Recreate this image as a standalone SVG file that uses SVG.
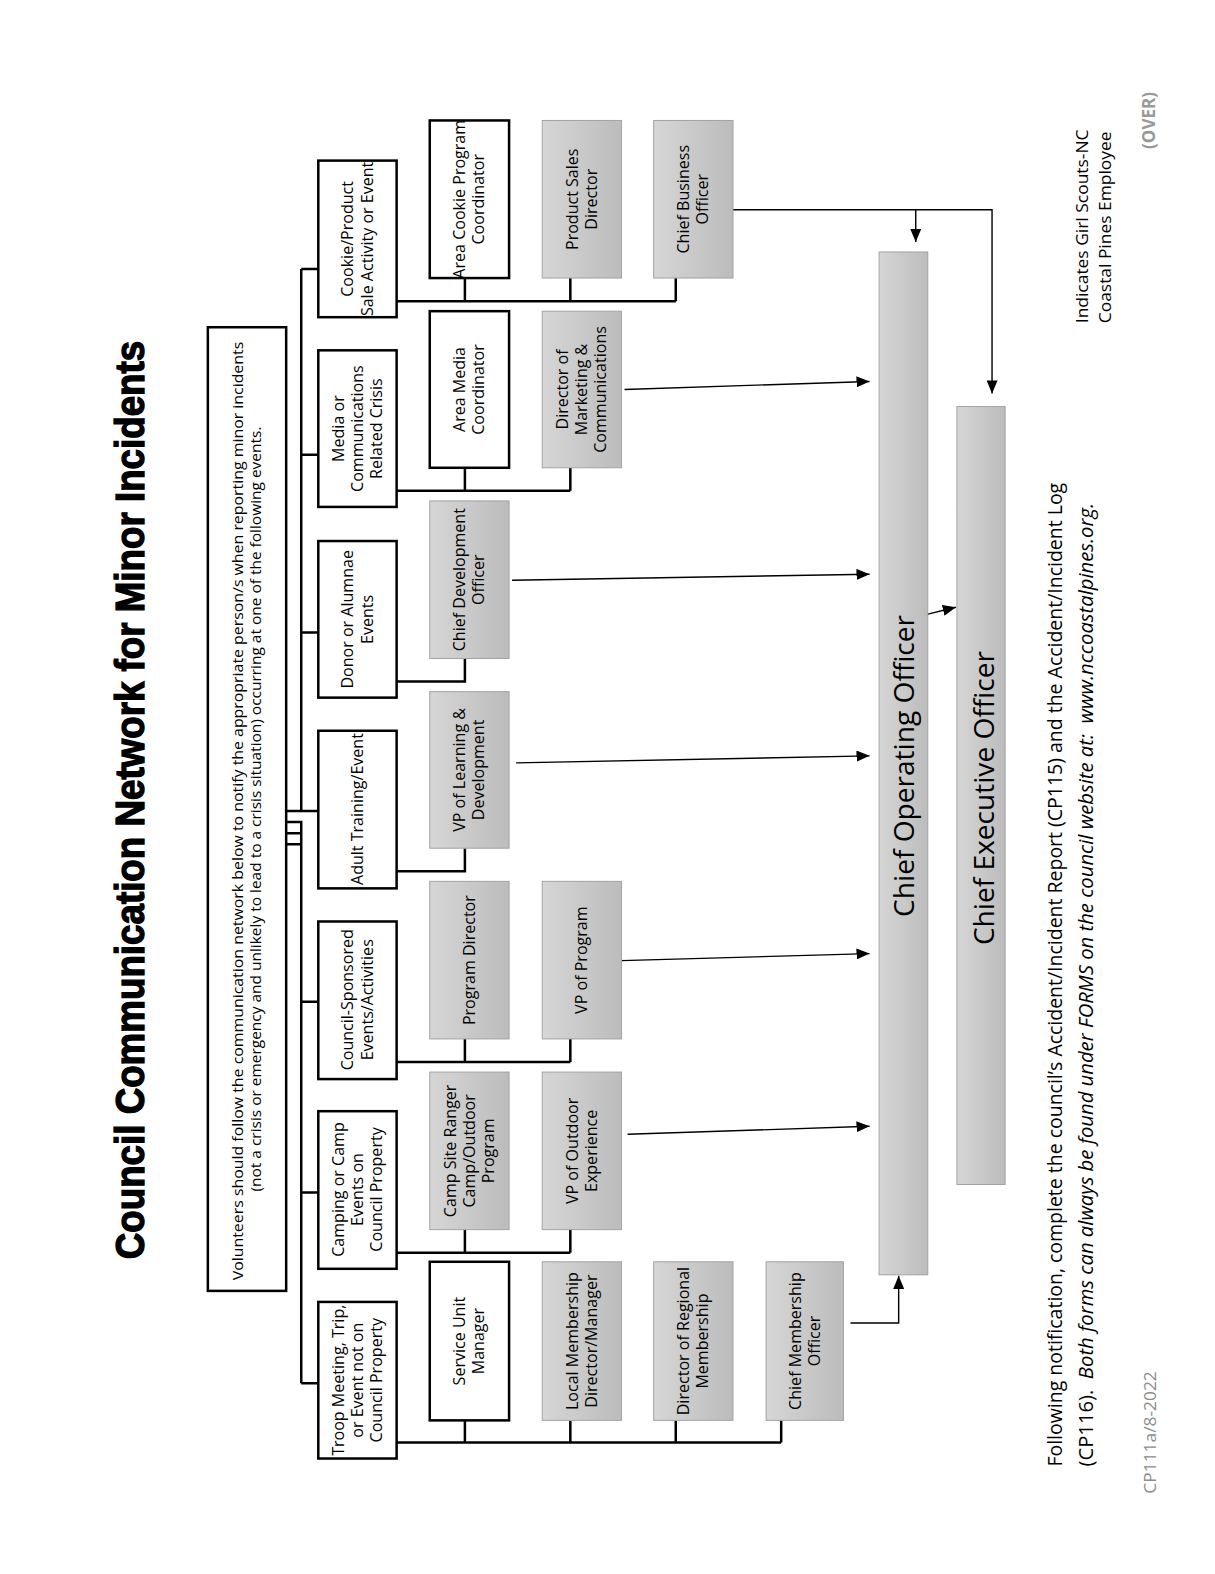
<svg xmlns="http://www.w3.org/2000/svg" width="1215" height="1574" viewBox="0 0 1215 1574">
<defs>
<linearGradient id="g" x1="0" y1="0" x2="1" y2="0">
<stop offset="0" stop-color="#d6d6d6"/>
<stop offset="1" stop-color="#bcbcbc"/>
</linearGradient>
<marker id="ah" markerUnits="userSpaceOnUse" markerWidth="13" markerHeight="11" refX="13" refY="5.5" orient="auto">
<path d="M0,0 L13,5.5 L0,11 z" fill="#000"/>
</marker>
<style>
.wb{fill:#fff;stroke:#000;stroke-width:2.5}
.gb{fill:url(#g);stroke:#a3a3a3;stroke-width:1}
.tr{fill:none;stroke:#000;stroke-width:2.5}
.ar{fill:none;stroke:#000;stroke-width:1.4;marker-end:url(#ah)}
.t{font-family:"Open Sans","Liberation Sans",sans-serif;font-size:16px;text-anchor:middle;fill:#000}
.big{font-family:"Open Sans","Liberation Sans",sans-serif;font-size:28px;text-anchor:middle;fill:#000}
.ft{font-family:"Open Sans","Liberation Sans",sans-serif;font-size:19.5px;fill:#000}
</style>
</defs>
<rect width="1215" height="1574" fill="#fff"/>
<g transform="scale(1.0041,1.0038)">

<g id="title">
<text transform="translate(143,797) rotate(-90)" x="0" y="0" text-anchor="middle" font-family="Liberation Sans, Arial, sans-serif" font-weight="900" font-size="40" stroke="#000" stroke-width="1.3" textLength="915" lengthAdjust="spacingAndGlyphs">Council Communication Network for Minor Incidents</text>
</g>

<g id="instructions">
<rect x="207" y="326" width="78" height="960" class="wb"/>
<text transform="translate(0,806) rotate(-90)" font-family="Open Sans, Liberation Sans, sans-serif" font-size="15" text-anchor="middle">
<tspan x="0" y="242" textLength="935" lengthAdjust="spacingAndGlyphs">Volunteers should follow the communication network below to notify the appropriate person/s when reporting minor incidents</tspan>
<tspan x="0" y="260" textLength="762" lengthAdjust="spacingAndGlyphs">(not a crisis or emergency and unlikely to lead to a crisis situation) occurring at one of the following events.</tspan>
</text>
</g>

<g id="connectors">
<path class="tr" d="M300,268 V808 M300,819 V1378 M300,268 H317 M300,453 H317 M300,630 H317 M285,808 H317 M285,819 H300 V841 M285,830 H300 M285,841 H300 M300,998 H317 M300,1188 H317 M300,1378 H317"/>
<path class="tr" d="M395,300 H673 M463,300 V277 M568,300 V277 M673,300 V277"/>
<path class="tr" d="M395,489 H568 M463,489 V466 M568,489 V466"/>
<path class="tr" d="M395,679 H463 V656"/>
<path class="tr" d="M395,868 H463 V845"/>
<path class="tr" d="M395,1058 H568 M463,1058 V1035 M568,1058 V1035"/>
<path class="tr" d="M395,1248 H568 M463,1248 V1225 M568,1248 V1225"/>
<path class="tr" d="M395,1437 H778 M463,1437 V1415 M568,1437 V1415 M673,1437 V1415 M778,1437 V1415"/>
<path class="ar" d="M622,388 L866,380"/>
<path class="ar" d="M510,578 L866,572"/>
<path class="ar" d="M514,760 L866,753"/>
<path class="ar" d="M619,957 L866,950"/>
<path class="ar" d="M625,1130 L866,1122"/>
<path class="ar" d="M847,1318 H895 V1271"/>
<path class="ar" d="M727,209 H988 V392"/>
<path class="ar" d="M912,209 V241"/>
<path class="ar" d="M923,612 L952,605"/>
</g>

<g id="ev-cookie"><rect x="317" y="160" width="78" height="156" class="wb"/>
<text class="t" transform="translate(356,238) rotate(-90)"><tspan x="0" y="-4">Cookie/Product</tspan><tspan x="0" y="15">Sale Activity or Event</tspan></text></g>
<g id="ev-media"><rect x="317" y="349" width="78" height="156" class="wb"/>
<text class="t" transform="translate(356,427) rotate(-90)"><tspan x="0" y="-13.5">Media or</tspan><tspan x="0" y="5.5">Communications</tspan><tspan x="0" y="24.5">Related Crisis</tspan></text></g>
<g id="ev-donor"><rect x="317" y="539" width="78" height="156" class="wb"/>
<text class="t" transform="translate(356,617) rotate(-90)"><tspan x="0" y="-4">Donor or Alumnae</tspan><tspan x="0" y="15">Events</tspan></text></g>
<g id="ev-adult"><rect x="317" y="728" width="78" height="157" class="wb"/>
<text class="t" transform="translate(356,806) rotate(-90)"><tspan x="0" y="5.5">Adult Training/Event</tspan></text></g>
<g id="ev-council"><rect x="317" y="918" width="78" height="157" class="wb"/>
<text class="t" transform="translate(356,996) rotate(-90)"><tspan x="0" y="-4">Council-Sponsored</tspan><tspan x="0" y="15">Events/Activities</tspan></text></g>
<g id="ev-camping"><rect x="317" y="1107" width="78" height="157" class="wb"/>
<text class="t" transform="translate(356,1185) rotate(-90)"><tspan x="0" y="-13.5">Camping or Camp</tspan><tspan x="0" y="5.5">Events on</tspan><tspan x="0" y="24.5">Council Property</tspan></text></g>
<g id="ev-troop"><rect x="317" y="1297" width="78" height="156" class="wb"/>
<text class="t" transform="translate(356,1375) rotate(-90)"><tspan x="0" y="-13.5">Troop Meeting, Trip,</tspan><tspan x="0" y="5.5">or Event not on</tspan><tspan x="0" y="24.5">Council Property</tspan></text></g>

<g id="area-cookie"><rect x="428" y="120" width="79" height="157" class="wb"/>
<text class="t" transform="translate(467.5,198.5) rotate(-90)"><tspan x="0" y="-4">Area Cookie Program</tspan><tspan x="0" y="15">Coordinator</tspan></text></g>
<g id="area-media"><rect x="428" y="310" width="79" height="156" class="wb"/>
<text class="t" transform="translate(467.5,388) rotate(-90)"><tspan x="0" y="-4">Area Media</tspan><tspan x="0" y="15">Coordinator</tspan></text></g>
<g id="cdo"><rect x="428" y="499" width="79" height="157" class="gb"/>
<text class="t" transform="translate(467.5,577.5) rotate(-90)"><tspan x="0" y="-4">Chief Development</tspan><tspan x="0" y="15">Officer</tspan></text></g>
<g id="vp-ld"><rect x="428" y="689" width="79" height="156" class="gb"/>
<text class="t" transform="translate(467.5,767) rotate(-90)"><tspan x="0" y="-4">VP of Learning &amp;</tspan><tspan x="0" y="15">Development</tspan></text></g>
<g id="prog-dir"><rect x="428" y="878" width="79" height="157" class="gb"/>
<text class="t" transform="translate(467.5,956.5) rotate(-90)"><tspan x="0" y="5.5">Program Director</tspan></text></g>
<g id="camp-ranger"><rect x="428" y="1068" width="79" height="157" class="gb"/>
<text class="t" transform="translate(467.5,1146.5) rotate(-90)"><tspan x="0" y="-13.5">Camp Site Ranger</tspan><tspan x="0" y="5.5">Camp/Outdoor</tspan><tspan x="0" y="24.5">Program</tspan></text></g>
<g id="sum"><rect x="428" y="1257" width="79" height="158" class="wb"/>
<text class="t" transform="translate(467.5,1336) rotate(-90)"><tspan x="0" y="-4">Service Unit</tspan><tspan x="0" y="15">Manager</tspan></text></g>

<g id="psd"><rect x="540" y="120" width="79" height="157" class="gb"/>
<text class="t" transform="translate(579.5,198.5) rotate(-90)"><tspan x="0" y="-4">Product Sales</tspan><tspan x="0" y="15">Director</tspan></text></g>
<g id="dir-mkt"><rect x="540" y="310" width="79" height="156" class="gb"/>
<text class="t" transform="translate(579.5,388) rotate(-90)"><tspan x="0" y="-13.5">Director of</tspan><tspan x="0" y="5.5">Marketing &amp;</tspan><tspan x="0" y="24.5">Communications</tspan></text></g>
<g id="vp-prog"><rect x="540" y="878" width="79" height="157" class="gb"/>
<text class="t" transform="translate(579.5,956.5) rotate(-90)"><tspan x="0" y="5.5">VP of Program</tspan></text></g>
<g id="vp-out"><rect x="540" y="1068" width="79" height="157" class="gb"/>
<text class="t" transform="translate(579.5,1146.5) rotate(-90)"><tspan x="0" y="-4">VP of Outdoor</tspan><tspan x="0" y="15">Experience</tspan></text></g>
<g id="local-mem"><rect x="540" y="1257" width="79" height="158" class="gb"/>
<text class="t" transform="translate(579.5,1336) rotate(-90)"><tspan x="0" y="-4">Local Membership</tspan><tspan x="0" y="15">Director/Manager</tspan></text></g>

<g id="cbo"><rect x="651" y="120" width="79" height="157" class="gb"/>
<text class="t" transform="translate(690.5,198.5) rotate(-90)"><tspan x="0" y="-4">Chief Business</tspan><tspan x="0" y="15">Officer</tspan></text></g>
<g id="dir-reg"><rect x="651" y="1257" width="79" height="158" class="gb"/>
<text class="t" transform="translate(690.5,1336) rotate(-90)"><tspan x="0" y="-4">Director of Regional</tspan><tspan x="0" y="15">Membership</tspan></text></g>
<g id="cmo"><rect x="763" y="1257" width="77" height="158" class="gb"/>
<text class="t" transform="translate(801.5,1336) rotate(-90)"><tspan x="0" y="-4">Chief Membership</tspan><tspan x="0" y="15">Officer</tspan></text></g>

<g id="coo"><rect x="875.5" y="251" width="48.5" height="1019" class="gb"/>
<text class="big" transform="translate(0,763) rotate(-90)" x="0" y="910">Chief Operating Officer</text></g>
<g id="ceo"><rect x="953" y="405" width="48" height="775" class="gb"/>
<text class="big" transform="translate(0,795) rotate(-90)" x="0" y="990">Chief Executive Officer</text></g>

<g id="footer">
<text class="ft" transform="translate(0,1461) rotate(-90)"><tspan x="0" y="1058" textLength="980" lengthAdjust="spacingAndGlyphs">Following notification, complete the council’s Accident/Incident Report (CP115) and the Accident/Incident Log</tspan></text>
<text class="ft" transform="translate(0,1461) rotate(-90)" xml:space="preserve" textLength="960" lengthAdjust="spacingAndGlyphs"><tspan x="0" y="1089">(CP116).  </tspan><tspan font-style="italic">Both forms can always be found under FORMS on the council website at:  www.nccoastalpines.org.</tspan></text>
</g>

<g id="legend">
<text font-family="Open Sans, Liberation Sans, sans-serif" font-size="17" transform="translate(0,322) rotate(-90)"><tspan x="0" y="1084" textLength="193" lengthAdjust="spacingAndGlyphs">Indicates Girl Scouts-NC</tspan><tspan x="0" y="1106" textLength="191" lengthAdjust="spacingAndGlyphs">Coastal Pines Employee</tspan></text>
<text font-family="Open Sans, Liberation Sans, sans-serif" font-size="17" font-weight="bold" fill="#999" text-anchor="middle" transform="translate(0,120) rotate(-90)" x="0" y="1150">(OVER)</text>
<text font-family="Open Sans, Liberation Sans, sans-serif" font-size="16" fill="#8c8c8c" transform="translate(0,1488) rotate(-90)" x="0" y="1151" textLength="122" lengthAdjust="spacingAndGlyphs">CP111a/8-2022</text>
</g>

</g>
</svg>
